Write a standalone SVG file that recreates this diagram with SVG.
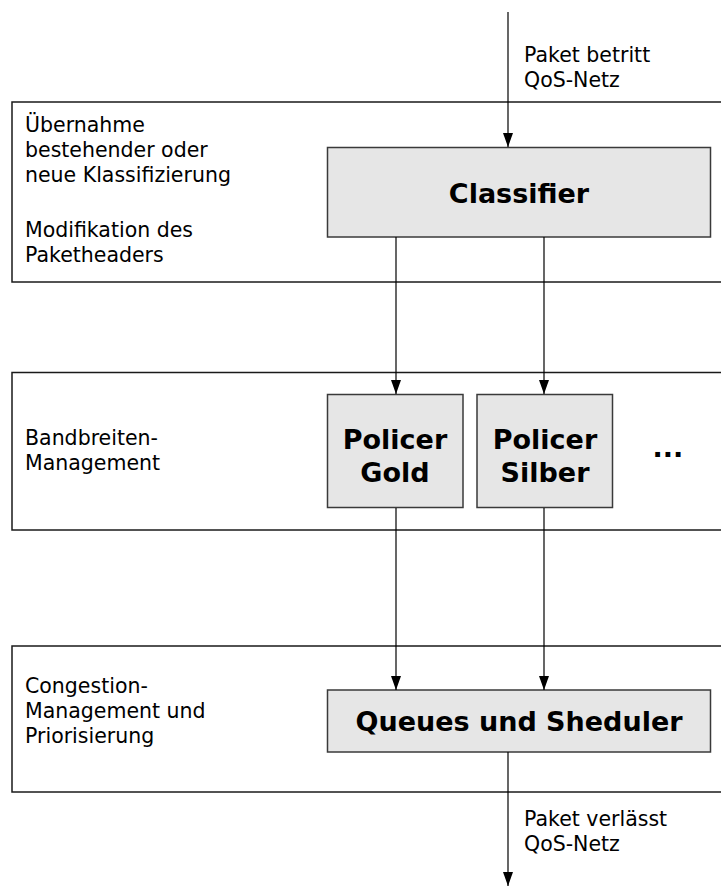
<svg xmlns="http://www.w3.org/2000/svg" width="721" height="887" viewBox="0 0 721 887">
<style>
.band{fill:#fff;stroke:#1a1a1a;stroke-width:1.5}
.box{fill:#e6e6e6;stroke:#3a3a3a;stroke-width:1.5}
.t{font-family:"DejaVu Sans",Verdana,sans-serif;font-size:20.5px;fill:#000}
.b{font-family:"DejaVu Sans",Verdana,sans-serif;font-size:27px;font-weight:bold;fill:#000;text-anchor:middle}
.c{stroke:#000;stroke-width:1.2;fill:none}
</style>
<defs>
<marker id="ah" viewBox="0 0 10 14" refX="5" refY="14" markerWidth="10" markerHeight="14" markerUnits="userSpaceOnUse" orient="0">
<path d="M0,0 L10,0 L5,14 z" fill="#000"/>
</marker>
</defs>
<g id="band1">
<rect class="band" x="12" y="102" width="720" height="180"/>
<text class="t"><tspan x="25" y="132">Übernahme</tspan><tspan x="25" y="157">bestehender oder</tspan><tspan x="25" y="182">neue Klassifizierung</tspan><tspan x="25" y="237">Modifikation des</tspan><tspan x="25" y="262">Paketheaders</tspan></text>
</g>
<g id="band2">
<rect class="band" x="12" y="372.5" width="720" height="157.5"/>
<text class="t"><tspan x="25" y="445">Bandbreiten-</tspan><tspan x="25" y="470">Management</tspan></text>
<text class="b" x="668" y="457">...</text>
</g>
<g id="band3">
<rect class="band" x="12" y="646" width="720" height="146"/>
<text class="t"><tspan x="25" y="693">Congestion-</tspan><tspan x="25" y="718">Management und</tspan><tspan x="25" y="743">Priorisierung</tspan></text>
</g>
<g id="classifier">
<rect class="box" x="327.5" y="147.5" width="383" height="89.5"/>
<text class="b" x="519" y="203">Classifier</text>
</g>
<g id="policer-gold">
<rect class="box" x="327.5" y="394.5" width="135.5" height="113"/>
<text class="b"><tspan x="395" y="449">Policer</tspan><tspan x="395" y="482">Gold</tspan></text>
</g>
<g id="policer-silber">
<rect class="box" x="477" y="394.5" width="135.5" height="113"/>
<text class="b"><tspan x="545" y="449">Policer</tspan><tspan x="545" y="482">Silber</tspan></text>
</g>
<g id="queues">
<rect class="box" x="327.5" y="690" width="383" height="62"/>
<text class="b" x="519" y="731">Queues und Sheduler</text>
</g>
<g id="labels">
<text class="t"><tspan x="524" y="62">Paket betritt</tspan><tspan x="524" y="87">QoS-Netz</tspan></text>
<text class="t"><tspan x="524" y="826">Paket verlässt</tspan><tspan x="524" y="851">QoS-Netz</tspan></text>
</g>
<g id="connectors">
<line class="c" x1="508" y1="12" x2="508" y2="147" marker-end="url(#ah)"/>
<line class="c" x1="396" y1="237" x2="396" y2="394" marker-end="url(#ah)"/>
<line class="c" x1="544" y1="237" x2="544" y2="394" marker-end="url(#ah)"/>
<line class="c" x1="396" y1="508" x2="396" y2="690" marker-end="url(#ah)"/>
<line class="c" x1="544" y1="508" x2="544" y2="690" marker-end="url(#ah)"/>
<line class="c" x1="508" y1="752" x2="508" y2="886" marker-end="url(#ah)"/>
</g>
</svg>
